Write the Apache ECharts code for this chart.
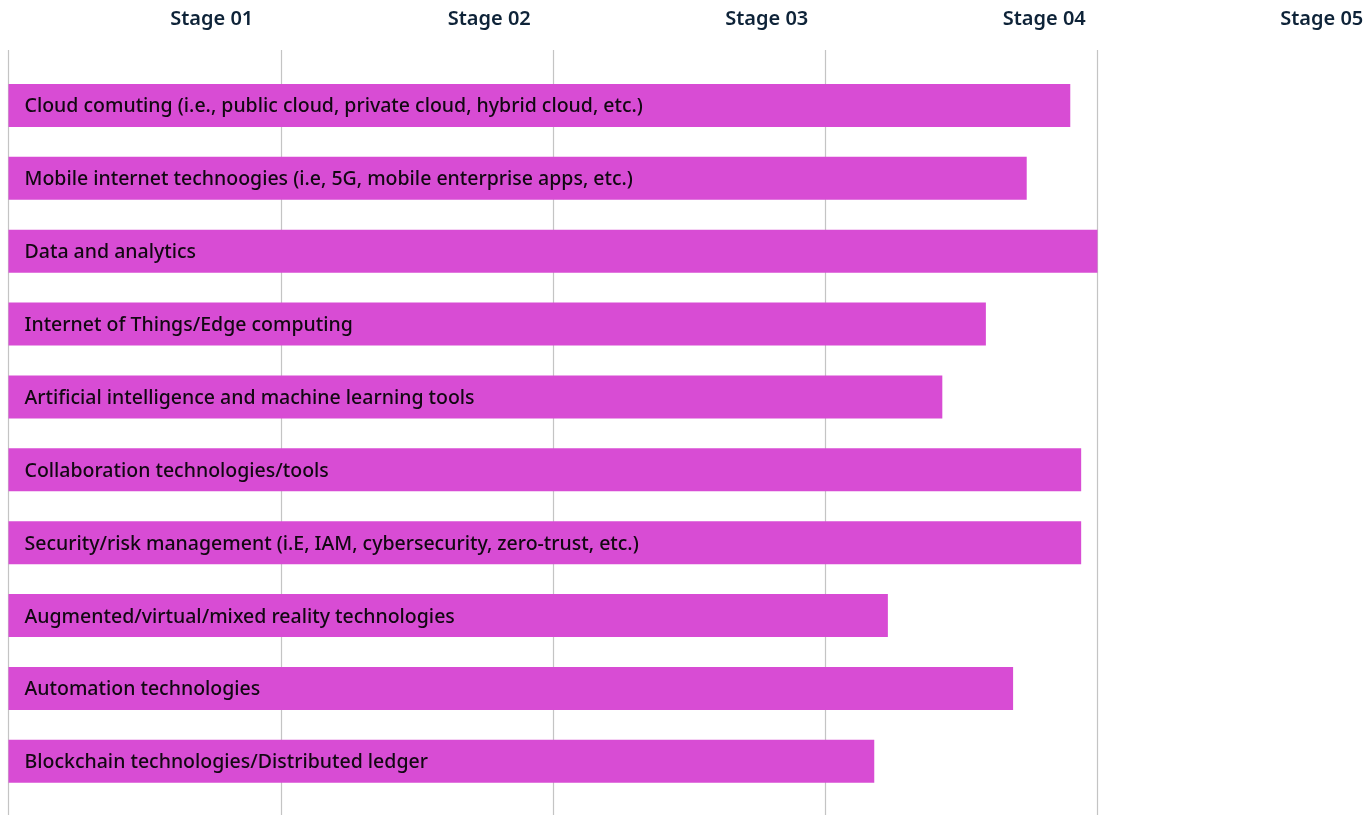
<!DOCTYPE html>
<html>
<head>
<meta charset="utf-8">
<script src="https://cdn.jsdelivr.net/npm/echarts@6/dist/echarts.min.js"></script>
<style>
  html, body { margin: 0; padding: 0; background: #ffffff; }
  #chart { width: 1363px; height: 815px; }
</style>
</head>
<body>
<div id="chart"></div>
<script>
// Technology areas, top to bottom
const technologies = [
  'Cloud comuting (i.e., public cloud, private cloud, hybrid cloud, etc.)',
  'Mobile internet technoogies (i.e, 5G, mobile enterprise apps, etc.)',
  'Data and analytics',
  'Internet of Things/Edge computing',
  'Artificial intelligence and machine learning tools',
  'Collaboration technologies/tools',
  'Security/risk management (i.E, IAM, cybersecurity, zero-trust, etc.)',
  'Augmented/virtual/mixed reality technologies',
  'Automation technologies',
  'Blockchain technologies/Distributed ledger'
];

// Maturity score on the stage scale (0 – 4)
const maturity = [3.90, 3.74, 4.00, 3.59, 3.43, 3.94, 3.94, 3.23, 3.69, 3.18];

// Stage headings along the top
const stageLabels = ['Stage 01', 'Stage 02', 'Stage 03', 'Stage 04', 'Stage 05'];

const FONT = '"Noto Sans", Lato, sans-serif';

const chart = echarts.init(document.getElementById('chart'), null, { renderer: 'canvas' });

chart.setOption({
  backgroundColor: '#ffffff',
  animation: false,
  grid: [
    // bars
    { left: 8.5, right: 265.5, top: 69, bottom: 17.3, outerBoundsMode: 'none', containLabel: false },
    // vertical guide lines
    { left: 8.5, right: 265.5, top: 50, bottom: 0, outerBoundsMode: 'none', containLabel: false },
    // stage headings (band runs past the right edge)
    { left: 73, width: 1387.5, top: 37, height: 1, outerBoundsMode: 'none', containLabel: false }
  ],
  xAxis: [
    {
      gridIndex: 0, type: 'value', min: 0, max: 4, interval: 1,
      axisLine: { show: false }, axisTick: { show: false },
      axisLabel: { show: false }, splitLine: { show: false }
    },
    {
      gridIndex: 1, type: 'value', min: 0, max: 4, interval: 1,
      axisLine: { show: false }, axisTick: { show: false },
      axisLabel: { show: false },
      splitLine: { show: true, lineStyle: { color: '#c4c4c4', width: 1.2 } }
    },
    {
      gridIndex: 2, type: 'category', position: 'top', data: stageLabels,
      boundaryGap: true,
      axisLine: { show: false }, axisTick: { show: false },
      splitLine: { show: false },
      axisLabel: {
        interval: 0, margin: 8, hideOverlap: false,
        fontFamily: FONT, fontSize: 20, fontWeight: 600, color: '#0e2338'
      }
    }
  ],
  yAxis: [
    {
      gridIndex: 0, type: 'category', data: technologies, inverse: true,
      axisLine: { show: false }, axisTick: { show: false },
      axisLabel: { show: false }, splitLine: { show: false }
    },
    { gridIndex: 1, type: 'value', min: 0, max: 1, show: false },
    { gridIndex: 2, type: 'value', min: 0, max: 1, show: false }
  ],
  series: [
    {
      type: 'bar',
      xAxisIndex: 0, yAxisIndex: 0,
      data: maturity,
      barWidth: 43,
      itemStyle: { color: '#d84cd4' },
      label: {
        show: true,
        position: 'insideLeft',
        distance: 16,
        offset: [0, 1.5],
        formatter: '{b}',
        fontFamily: FONT,
        fontSize: 19.5,
        fontWeight: 500,
        color: '#120812'
      },
      z: 3
    }
  ]
});
</script>
</body>
</html>
